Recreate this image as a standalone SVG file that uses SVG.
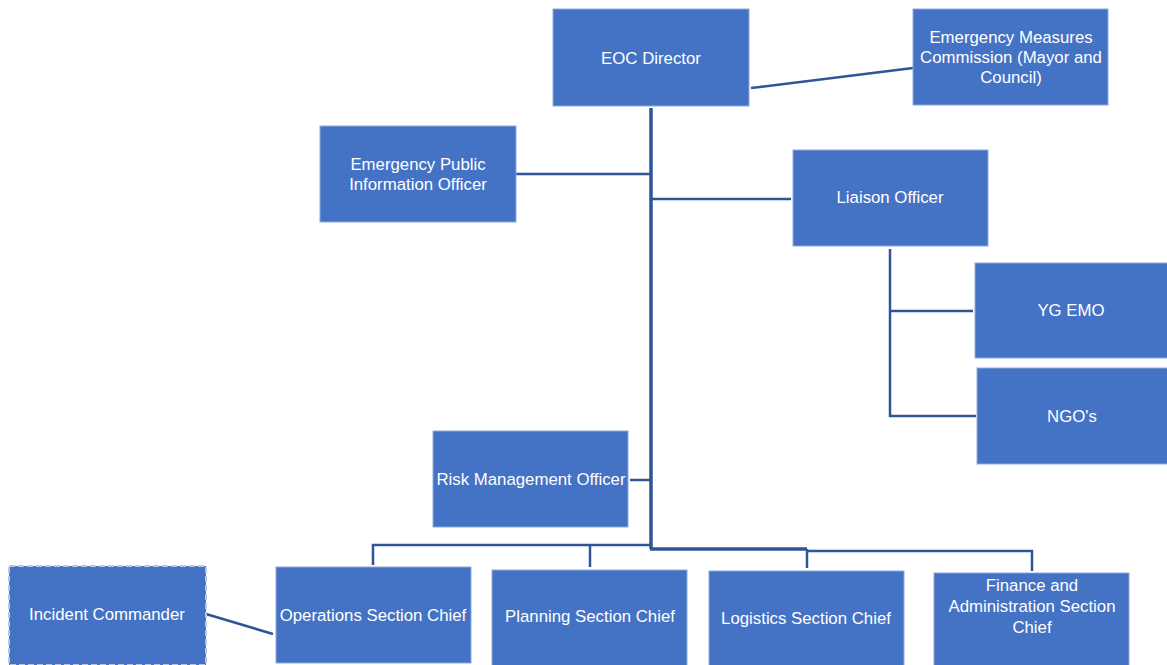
<svg xmlns="http://www.w3.org/2000/svg" width="1167" height="665" viewBox="0 0 1167 665">
<style>
.box{fill:#4472C4;stroke:#8FAADC;stroke-width:1}
.dash{fill:#4472C4;stroke:#B4C7E7;stroke-width:2;stroke-dasharray:6 3}
.t{font-family:"Liberation Sans",Arial,sans-serif;font-size:16.8px;fill:#FFFFFF;text-anchor:middle;dominant-baseline:central}
.c{fill:none;stroke:#2F5597;stroke-width:2.5}
.trunk{fill:none;stroke:#2F5597;stroke-width:3.5}
</style>
<rect width="1167" height="665" fill="#FFFFFF"/>
<g id="connectors">
<line class="c" x1="751" y1="88" x2="913" y2="68"/>
<polyline class="trunk" points="651,108 651,549"/>
<line class="c" x1="516" y1="174" x2="651" y2="174"/>
<line class="c" x1="651" y1="199" x2="791" y2="199"/>
<polyline class="c" points="890,249 890,416 976,416"/>
<line class="c" x1="890" y1="311" x2="973" y2="311"/>
<line class="c" x1="630" y1="480" x2="651" y2="480"/>
<polyline class="c" points="373,565 373,545 651,545"/>
<line class="c" x1="590" y1="545" x2="590" y2="567"/>
<polyline class="trunk" points="650,549 807,549"/>
<line class="c" x1="807" y1="549" x2="807" y2="568"/>
<polyline class="c" points="807,551 1032,551 1032,571"/>
<line class="c" x1="206" y1="614" x2="273" y2="634"/>
</g>
<g id="eoc-director"><rect class="box" x="553" y="9" width="196" height="97"/><text class="t" x="651" y="58">EOC Director</text></g>
<g id="emc"><rect class="box" x="913" y="9" width="195" height="96"/><text class="t" x="1011" y="37">Emergency Measures</text><text class="t" x="1011" y="57">Commission (Mayor and</text><text class="t" x="1011" y="77">Council)</text></g>
<g id="epio"><rect class="box" x="320" y="126" width="196" height="96"/><text class="t" x="418" y="164">Emergency Public</text><text class="t" x="418" y="184">Information Officer</text></g>
<g id="liaison"><rect class="box" x="793" y="150" width="195" height="96"/><text class="t" x="890" y="197">Liaison Officer</text></g>
<g id="yg-emo"><rect class="box" x="975" y="263" width="193" height="95"/><text class="t" x="1071" y="310">YG EMO</text></g>
<g id="ngos"><rect class="box" x="977" y="368" width="191" height="96"/><text class="t" x="1072" y="416">NGO's</text></g>
<g id="risk"><rect class="box" x="433" y="431" width="195" height="96"/><text class="t" x="531" y="479">Risk Management Officer</text></g>
<g id="incident-commander"><rect class="dash" x="9" y="566" width="197" height="99"/><text class="t" x="107" y="614">Incident Commander</text></g>
<g id="operations"><rect class="box" x="276" y="567" width="195" height="96"/><text class="t" x="373" y="615">Operations Section Chief</text></g>
<g id="planning"><rect class="box" x="492" y="570" width="195" height="96"/><text class="t" x="590" y="616">Planning Section Chief</text></g>
<g id="logistics"><rect class="box" x="709" y="571" width="195" height="96"/><text class="t" x="806" y="618">Logistics Section Chief</text></g>
<g id="finance"><rect class="box" x="934" y="573" width="195" height="94"/><text class="t" x="1032" y="585">Finance and</text><text class="t" x="1032" y="606">Administration Section</text><text class="t" x="1032" y="627">Chief</text></g>
</svg>
